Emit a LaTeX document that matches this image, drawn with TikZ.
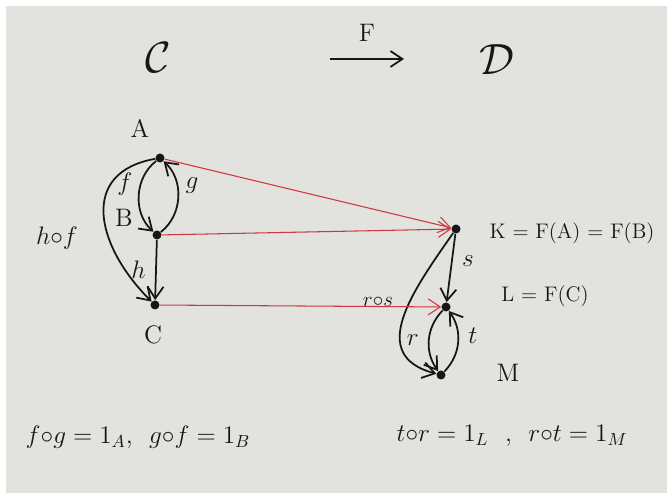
\documentclass[tikz,border=0pt]{standalone}
\usetikzlibrary{arrows.meta}
\definecolor{paper}{RGB}{226,226,223}
\definecolor{pen}{RGB}{22,22,22}
\definecolor{redpen}{RGB}{205,55,62}
\begin{document}
\begin{tikzpicture}[
        x=0.02cm, y=-0.02cm,
        dot/.style={circle, fill=pen, inner sep=0pt, minimum size=1.8mm},
        lab/.style={text=pen, font=\Large},
        big/.style={text=pen, font=\fontsize{34}{40}\selectfont},
        mor/.style={->, draw=pen, line width=1pt},
        fun/.style={->, draw=redpen, line width=0.6pt},
        >={Straight Barb[length=2.4mm, width=3.2mm]}
    ]
        % Paper
        \useasboundingbox (0,0) rectangle (667,493);
        \fill[white] (0,0) rectangle (667,493);
        \fill[paper] (6,6) rectangle (667,493);

        % Categories and functor
        \node[big] (catC) at (158,58) {$\mathcal{C}$};
        \node[big] (catD) at (497,60) {$\mathcal{D}$};
        \node[lab] (Flab) at (367,33) {F};
        \coordinate (Fs) at (330,59);
        \coordinate (Ft) at (404,59);
        \draw[mor] (Fs) -- (Ft);

        % Objects in C
        \node[dot] (A) at (160,158) {};
        \node[dot] (B) at (157,235) {};
        \node[dot] (C) at (155,305) {};
        \node[lab] (Alab) at (140,128) {A};
        \node[lab] (Blab) at (124,218) {B};
        \node[lab] (Clab) at (153,335) {C};

        % Objects in D
        \node[dot] (K) at (456,229) {};
        \node[dot] (L) at (446,307) {};
        \node[dot] (M) at (441,375) {};
        \node[lab, font=\large] (Klab) at (572,233) {K = F(A) = F(B)};
        \node[lab, font=\large] (Llab) at (545,296) {L = F(C)};
        \node[lab] (Mlab) at (508,373) {M};

        % Morphisms in C
        \draw[mor] (A) to[bend right=50] node[lab, pos=0.35, left=1pt] {$f$} (B);
        \draw[mor] (B) to[bend right=50] node[lab, pos=0.65, right=1pt] {$g$} (A);
        \draw[mor] (B) -- node[lab, left=2pt] {$h$} (C);
        \draw[mor] (A) to[out=190, in=135, looseness=1.4] (C);
        \node[lab] (hflab) at (57,238) {$h{\circ}f$};

        % Morphisms in D
        \draw[mor] (K) -- node[lab, pos=0.4, right=2pt] {$s$} (L);
        \draw[mor] (K) to[out=235, in=165, looseness=1.3] (M);
        \draw[mor] (L) to[bend right=40] node[lab, left=2pt] {$r$} (M);
        \draw[mor] (M) to[bend right=40] node[lab, pos=0.6, right=2pt] {$t$} (L);
        \node[lab, font=\large] (rslab) at (378,302) {$r{\circ}s$};

        % Functor on objects
        \draw[fun] (A) -- (K);
        \draw[fun] (B) -- (K);
        \draw[fun] (C) -- (L);

        % Identities
        \node[lab] (idC) at (138,437) {$f{\circ}g = 1_A$,\ \ $g{\circ}f = 1_B$};
        \node[lab] (idD) at (512,436) {$t{\circ}r = 1_L$\ \ ,\ \ $r{\circ}t = 1_M$};
    \end{tikzpicture}
\end{document}
